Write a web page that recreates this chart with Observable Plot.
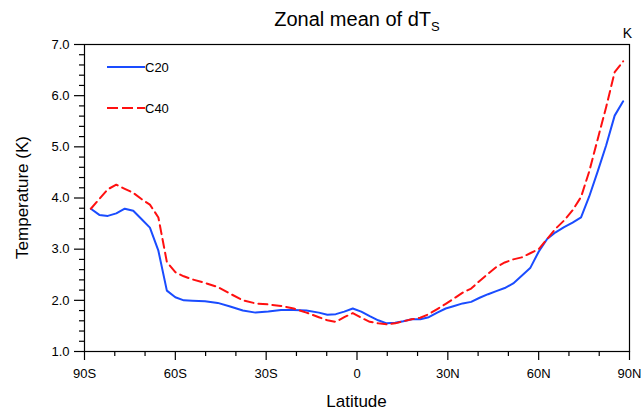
<!DOCTYPE html>
<html>
<head>
<meta charset="utf-8">
<script src="https://cdn.jsdelivr.net/npm/d3@7"></script>
<script src="https://cdn.jsdelivr.net/npm/@observablehq/plot@0.6"></script>
<style>
  html, body { margin: 0; padding: 0; background: #fff; }
  svg { font-family: "Liberation Sans", Arial, Helvetica, sans-serif; }
</style>
</head>
<body>
<div id="chart"></div>
<script>
const lat = [-87.9, -85.1, -82.3, -79.5, -76.7, -73.9, -71.2, -68.4, -65.6, -62.8, -60.0, -57.2, -54.4,
  -50.2, -46.0, -41.9, -37.7, -33.5, -29.3, -25.1, -20.9, -16.7, -12.6, -9.8, -7.0, -4.2, -1.4,
  1.4, 4.2, 7.0, 9.8, 12.6, 15.3, 18.1, 20.9, 23.7, 26.5, 29.3, 32.1, 34.9, 37.7, 40.5, 43.3,
  46.0, 48.8, 51.6, 54.4, 57.2, 60.0, 62.8, 65.6, 68.4, 71.2, 74.0, 76.7, 79.5, 82.3, 85.1, 87.9];

const c20 = [3.79, 3.67, 3.65, 3.70, 3.79, 3.75, 3.59, 3.42, 2.97, 2.19, 2.06, 2.00, 1.99,
  1.98, 1.95, 1.88, 1.80, 1.76, 1.78, 1.81, 1.81, 1.80, 1.76, 1.72, 1.73, 1.78, 1.84,
  1.78, 1.69, 1.61, 1.55, 1.56, 1.59, 1.63, 1.63, 1.67, 1.76, 1.84, 1.89, 1.94, 1.97, 2.05, 2.12,
  2.18, 2.24, 2.33, 2.48, 2.63, 2.95, 3.20, 3.33, 3.43, 3.52, 3.62, 4.03, 4.52, 5.03, 5.61, 5.89];

const c40 = [3.79, 3.98, 4.17, 4.26, 4.18, 4.10, 3.98, 3.87, 3.62, 2.75, 2.55, 2.47, 2.41,
  2.34, 2.26, 2.13, 2.00, 1.94, 1.92, 1.89, 1.84, 1.76, 1.67, 1.61, 1.58, 1.67, 1.75,
  1.66, 1.58, 1.55, 1.53, 1.55, 1.59, 1.63, 1.66, 1.73, 1.83, 1.93, 2.04, 2.15, 2.23, 2.38, 2.52,
  2.65, 2.74, 2.80, 2.84, 2.92, 3.00, 3.20, 3.40, 3.56, 3.76, 4.02, 4.52, 5.15, 5.78, 6.46, 6.67];

const seriesNames = ["C20", "C40"];
const seriesColors = ["#1a4cff", "#ff1010"];

const xTickValues = [-90, -60, -30, 0, 30, 60, 90];
const xTickLabels = ["90S", "60S", "30S", "0", "30N", "60N", "90N"];
const xMinorTicks = [-80, -70, -50, -40, -20, -10, 10, 20, 40, 50, 70, 80];
const yTickValues = [1, 2, 3, 4, 5, 6, 7];
const yTickLabels = ["1.0", "2.0", "3.0", "4.0", "5.0", "6.0", "7.0"];
const yMinorTicks = d3.range(1, 7.001, 0.2).filter(v => Math.abs(v - Math.round(v)) > 1e-6);

const titleText = "Zonal mean of dT";
const titleSub = "S";
const unitText = "K";
const xTitle = "Latitude";
const yTitle = "Temperature (K)";

const data = lat.flatMap((l, i) => [
  {lat: l, v: c20[i], s: seriesNames[0]},
  {lat: l, v: c40[i], s: seriesNames[1]}
]);

const W = 641, H = 412;
const mL = 84, mR = 12, mT = 44, mB = 61;

const chart = Plot.plot({
  width: W, height: H,
  marginLeft: mL, marginRight: mR, marginTop: mT, marginBottom: mB,
  style: {fontFamily: '"Liberation Sans", Arial, sans-serif', fontSize: "13px", color: "#000", background: "#fff"},
  x: {domain: [-90, 90]},
  y: {domain: [1, 7]},
  color: {domain: seriesNames, range: seriesColors},
  marks: [
    Plot.axisX({ticks: xMinorTicks, tickSize: 5, text: null, label: null, strokeWidth: 1.2}),
    Plot.axisX({ticks: xTickValues, tickSize: 9, tickPadding: 8,
      tickFormat: d => xTickLabels[xTickValues.indexOf(d)], label: null, fontSize: 13, strokeWidth: 1.2}),
    Plot.axisY({ticks: yMinorTicks, tickSize: 5, text: null, label: null, strokeWidth: 1.2}),
    Plot.axisY({ticks: yTickValues, tickSize: 10, tickPadding: 5,
      tickFormat: d => yTickLabels[yTickValues.indexOf(d)], label: null, fontSize: 13, strokeWidth: 1.2}),
    Plot.frame({stroke: "#000", strokeWidth: 1.2}),
    Plot.line(data.filter(d => d.s === seriesNames[0]), {x: "lat", y: "v", stroke: "s", strokeWidth: 2}),
    Plot.line(data.filter(d => d.s === seriesNames[1]), {x: "lat", y: "v", stroke: "s", strokeWidth: 2, strokeDasharray: "9,5"})
  ]
});

const svg = d3.select(chart);

// Title with subscript
const t = svg.append("text")
  .attr("x", 357).attr("y", 26)
  .attr("text-anchor", "middle")
  .attr("font-size", 20)
  .attr("fill", "#000");
t.append("tspan").text(titleText);
t.append("tspan").attr("font-size", 13).attr("dy", 5).text(titleSub);

svg.append("text").attr("x", 632).attr("y", 38).attr("text-anchor", "end")
  .attr("font-size", 14).attr("fill", "#000").text(unitText);

svg.append("text").attr("x", (mL + W - mR) / 2).attr("y", 407).attr("text-anchor", "middle")
  .attr("font-size", 17).attr("fill", "#000").text(xTitle);

svg.append("text").attr("transform", `translate(28,${(mT + H - mB) / 2}) rotate(-90)`)
  .attr("text-anchor", "middle").attr("font-size", 17).attr("fill", "#000").text(yTitle);

// Legend
const legY = [67, 108];
seriesNames.forEach((name, i) => {
  svg.append("line").attr("x1", 107).attr("x2", 145).attr("y1", legY[i]).attr("y2", legY[i])
    .attr("stroke", seriesColors[i]).attr("stroke-width", 2)
    .attr("stroke-dasharray", i === 1 ? "11,4" : null);
  svg.append("text").attr("x", 145).attr("y", legY[i]).attr("dy", "0.36em")
    .attr("text-anchor", "start")
    .attr("font-size", 13).attr("fill", "#000").text(name);
});

document.getElementById("chart").appendChild(chart);
</script>
</body>
</html>
